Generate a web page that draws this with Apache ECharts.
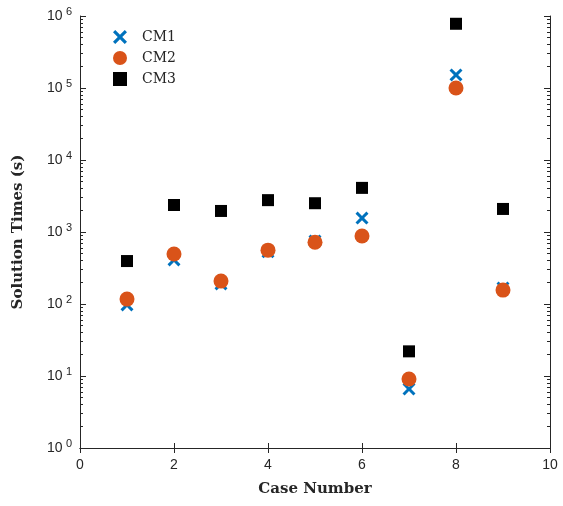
<!DOCTYPE html>
<html><head><meta charset="utf-8">
<script src="https://cdn.jsdelivr.net/npm/echarts@6/dist/echarts.min.js"></script>
<style>html,body{margin:0;padding:0;background:#fff}#c{width:563px;height:506px}</style>
</head><body><div id="c"></div>
<script>
const cases = [1, 2, 3, 4, 5, 6, 7, 8, 9];
const cm1 = [97, 410, 190, 530, 750, 1560, 6.6, 152000, 167];
const cm2 = [117, 494, 208, 560, 720, 880, 9.1, 100000, 156];
const cm3 = [395, 2370, 1960, 2770, 2510, 4100, 22, 780000, 2090];
const seriesNames = ['CM1', 'CM2', 'CM3'];
const yMinor = [];
for (let d = 0; d < 6; d++) for (let k = 2; k <= 9; k++) yMinor.push(k * Math.pow(10, d));
const yMinorLog = yMinor.map(v => Math.log10(v));

const axisColor = '#262626';
const xShape = 'path://M0,1.6 L1.6,0 L5,3.4 L8.4,0 L10,1.6 L6.6,5 L10,8.4 L8.4,10 L5,6.6 L1.6,10 L0,8.4 L3.4,5 Z';

function pairs(vals) { return cases.map((c, i) => [c, vals[i]]); }

function yAx(pos, showLabel, name) {
  return {
    type: 'log', logBase: 10, min: 1, max: 1000000, position: pos,
    name: name || '', nameLocation: 'middle', nameGap: 54,
    nameTextStyle: { fontFamily: 'DejaVu Serif', fontWeight: 'bold', fontSize: 15, color: axisColor },
    axisLine: { show: true, lineStyle: { color: axisColor, width: 1 } },
    axisTick: { show: true, inside: true, length: 6, lineStyle: { color: axisColor } },
    axisLabel: showLabel ? {
      show: true, margin: 8,
      formatter: v => '{b|10} {s|' + Math.round(Math.log10(v)) + '}',
      rich: {
        b: { fontFamily: 'Liberation Sans', fontSize: 14, color: axisColor },
        s: { fontFamily: 'Liberation Sans', fontSize: 11, color: axisColor, padding: [0, 0, 9, 0] }
      }
    } : { show: false },
    splitLine: { show: false }
  };
}

// linear axis over log10 space, only carrying the minor tick marks
function minorAx(pos) {
  return {
    type: 'value', min: 0, max: 6, position: pos,
    axisLine: { show: false },
    axisTick: { show: true, inside: true, length: 3, customValues: yMinorLog, lineStyle: { color: axisColor } },
    axisLabel: { show: false }, splitLine: { show: false }
  };
}

const chart = echarts.init(document.getElementById('c'), null, { renderer: 'canvas' });
chart.setOption({
  backgroundColor: '#fff',
  animation: false,
  grid: { left: 80, right: 13, top: 16, bottom: 58, containLabel: false },
  legend: {
    orient: 'vertical', left: 108, top: 25, itemGap: 7, itemWidth: 14, itemHeight: 14,
    textStyle: { fontFamily: 'DejaVu Serif', fontSize: 14, color: axisColor, padding: [0, 0, 0, 10] },
    data: seriesNames
  },
  xAxis: [
    {
      type: 'value', min: 0, max: 10, interval: 2, position: 'bottom',
      name: 'Case Number', nameLocation: 'middle', nameGap: 34,
      nameTextStyle: { fontFamily: 'DejaVu Serif', fontWeight: 'bold', fontSize: 15, color: axisColor },
      axisLine: { show: true, lineStyle: { color: axisColor } },
      axisTick: { show: true, inside: true, length: 5, lineStyle: { color: axisColor } },
      axisLabel: { fontFamily: 'Liberation Sans', fontSize: 14, color: axisColor, margin: 10 },
      splitLine: { show: false }
    },
    {
      type: 'value', min: 0, max: 10, interval: 2, position: 'top',
      axisLine: { show: true, lineStyle: { color: axisColor } },
      axisTick: { show: true, inside: true, length: 5, lineStyle: { color: axisColor } },
      axisLabel: { show: false }, splitLine: { show: false }
    }
  ],
  yAxis: [
    yAx('left', true, 'Solution Times (s)'),
    minorAx('left'),
    yAx('right', false),
    minorAx('right')
  ],
  series: [
    { name: 'CM1', type: 'scatter', yAxisIndex: 0, symbol: xShape, symbolSize: 13, itemStyle: { color: '#0072BD', opacity: 1 }, data: pairs(cm1), z: 2 },
    { name: 'CM2', type: 'scatter', yAxisIndex: 0, symbol: 'circle', symbolSize: 15, itemStyle: { color: '#D95319', opacity: 1 }, data: pairs(cm2), z: 3 },
    { name: 'CM3', type: 'scatter', yAxisIndex: 0, symbol: 'rect', symbolSize: 12, itemStyle: { color: '#000000', opacity: 1 }, data: pairs(cm3), z: 4 }
  ]
});
</script>
</body></html>
